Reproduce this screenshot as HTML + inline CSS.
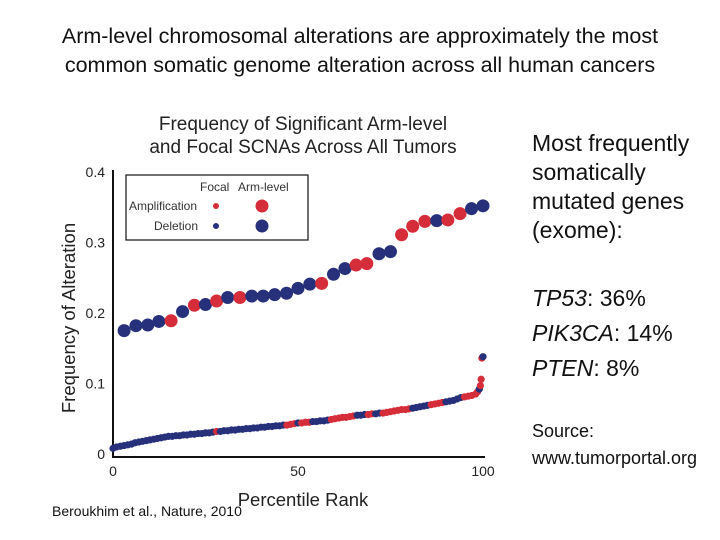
<!DOCTYPE html>
<html><head><meta charset="utf-8"><style>
body{margin:0;width:720px;height:540px;background:#fff;overflow:hidden;position:relative;font-family:"Liberation Sans",sans-serif}
.t{position:absolute;white-space:nowrap}
</style></head><body>
<div class="t" style="left:0;width:720px;top:22px;text-align:center;font-size:21.5px;line-height:29px;color:#111">Arm-level chromosomal alterations are approximately the most<br>common somatic genome alteration across all human cancers</div>
<div class="t" style="left:532px;top:129px;font-size:23px;line-height:29px;color:#111">Most frequently<br>somatically<br>mutated genes<br>(exome):</div>
<div class="t" style="left:532px;top:281px;font-size:23px;line-height:35px;color:#111"><i>TP53</i>: 36%<br><i>PIK3CA</i>: 14%<br><i>PTEN</i>: 8%</div>
<div class="t" style="left:532px;top:418px;font-size:18px;line-height:27px;color:#111">Source:<br>www.tumorportal.org</div>
<div class="t" style="left:52px;top:503px;font-size:14px;color:#111">Beroukhim et al., Nature, 2010</div>
<svg id="chart" width="720" height="540" style="position:absolute;left:0;top:0">
<text x="303" y="130" text-anchor="middle" font-size="19" fill="#222" font-family="Liberation Sans">Frequency of Significant Arm-level</text>
<text x="303" y="153" text-anchor="middle" font-size="19" fill="#222" font-family="Liberation Sans">and Focal SCNAs Across All Tumors</text>
<text transform="translate(75,318) rotate(-90)" text-anchor="middle" font-size="18.5" fill="#222" font-family="Liberation Sans">Frequency of Alteration</text>
<text x="303" y="506" text-anchor="middle" font-size="18.5" fill="#222" font-family="Liberation Sans">Percentile Rank</text>
<line x1="113" y1="170" x2="113" y2="457" stroke="#111" stroke-width="2"/>
<line x1="112" y1="457" x2="485" y2="457" stroke="#111" stroke-width="2"/>
<g id="ticks"></g><g id="marks"></g>
<g>
<rect x="126" y="175" width="182" height="65" fill="#fff" stroke="#111" stroke-width="1.2"/>
<text x="200" y="191" font-size="12" fill="#333">Focal</text><text x="238" y="191" font-size="12" fill="#333">Arm-level</text>
<text x="129" y="210" font-size="12" fill="#333">Amplification</text><text x="154" y="230" font-size="12" fill="#333">Deletion</text>
<circle cx="216" cy="206" r="3" fill="#d62d3a"/><circle cx="262" cy="206" r="6.5" fill="#d62d3a"/>
<circle cx="216" cy="226" r="3" fill="#27307a"/><circle cx="262" cy="226" r="6.5" fill="#27307a"/>
</g>
</svg>
<script>
const armPct=[3,6.2,9.4,12.4,15.7,18.8,22,25,28,31,34.3,37.5,40.6,43.7,46.9,50,53.2,56.4,59.6,62.7,65.7,68.6,71.9,75,78,81,84.3,87.5,90.5,93.8,96.9,100];
const armVal=[0.175,0.182,0.183,0.188,0.189,0.202,0.211,0.212,0.217,0.222,0.222,0.224,0.224,0.226,0.228,0.235,0.241,0.242,0.255,0.263,0.268,0.270,0.284,0.287,0.311,0.323,0.330,0.331,0.332,0.341,0.348,0.352];
const armType="bbbbrbrbrbrbbbbbbrbbrrbbrrrbrrbb";
const focalPct=[0,1,2,3,4,5,6,7,8,9,10,11,12,13,14,15,16,17,18,19,20,21,22,23,24,25,26,27,28,29,30,31,32,33,34,35,36,37,38,39,40,41,42,43,44,45,46,47,48,49,50,51,52,53,54,55,56,57,58,59,60,61,62,63,64,65,66,67,68,69,70,71,72,73,74,75,76,77,78,79,80,81,82,83,84,85,86,87,88,89,90,91,92,93,94,95,96,97,98,98.5,99,99.3,99.5,99.7,100];
const focalVal=[0.008,0.010,0.011,0.012,0.013,0.014,0.016,0.017,0.018,0.019,0.020,0.021,0.022,0.023,0.024,0.025,0.025,0.026,0.026,0.027,0.027,0.028,0.028,0.029,0.029,0.030,0.030,0.031,0.032,0.032,0.033,0.033,0.034,0.034,0.035,0.035,0.036,0.036,0.037,0.037,0.038,0.038,0.039,0.039,0.040,0.040,0.041,0.041,0.042,0.043,0.044,0.044,0.045,0.045,0.046,0.046,0.047,0.047,0.048,0.049,0.050,0.051,0.052,0.052,0.053,0.054,0.055,0.055,0.056,0.056,0.057,0.057,0.058,0.058,0.059,0.060,0.061,0.062,0.063,0.063,0.064,0.065,0.066,0.067,0.068,0.069,0.070,0.071,0.072,0.073,0.074,0.075,0.076,0.078,0.080,0.081,0.082,0.083,0.085,0.088,0.092,0.097,0.106,0.136,0.138];
const focalType="bbbbbbbbbbbbbbbbbbbbbbbbbbbbrbbbbbbbbbbbbbbbbbbrrrbrrrbbbbbrrrrrrrbbbrrbbrrrrrrrrbbbbbrrrrbbbbbrrrrrbrrrb";
const yTicks=[0,0.1,0.2,0.3,0.4];const yLabels=["0","0.1","0.2","0.3","0.4"];
const xTicks=[0,50,100];const xLabels=["0","50","100"];
const X=p=>113+p*3.7, Y=v=>454-v*705;
const NS="http://www.w3.org/2000/svg";
const col={r:"#d62d3a",b:"#27307a"};
const tk=document.getElementById('ticks'), mk=document.getElementById('marks');
function mkText(x,y,s,a){const t=document.createElementNS(NS,'text');t.setAttribute('x',x);t.setAttribute('y',y);t.setAttribute('font-size','14');t.setAttribute('fill','#222');t.setAttribute('text-anchor',a);t.textContent=s;tk.appendChild(t);return t;}
yTicks.forEach((v,i)=>{const t=mkText(105,Y(v)+5,yLabels[i],'end');

});
xTicks.forEach((v,i)=>{const t=mkText(X(v),476,xLabels[i],'middle');

});
focalPct.forEach((p,i)=>{const c=document.createElementNS(NS,'circle');c.setAttribute('cx',X(p));c.setAttribute('cy',Y(focalVal[i]));c.setAttribute('r',3.6);c.setAttribute('fill',col[focalType[i]]||col.b);


mk.appendChild(c);});
armPct.forEach((p,i)=>{const c=document.createElementNS(NS,'circle');c.setAttribute('cx',X(p));c.setAttribute('cy',Y(armVal[i]));c.setAttribute('r',6.5);c.setAttribute('fill',col[armType[i]]);


mk.appendChild(c);});
</script>
</body></html>
